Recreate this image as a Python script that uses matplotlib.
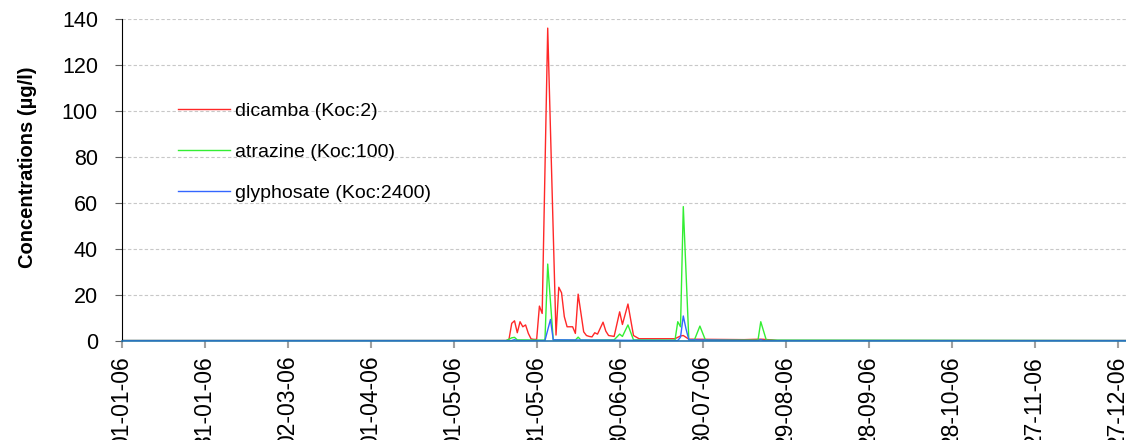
import matplotlib
matplotlib.use("Agg")
import matplotlib.pyplot as plt
import matplotlib.dates as mdates
import pandas as pd

plt.rcParams['font.family'] = ['Liberation Sans', 'DejaVu Sans']

# --- series: day offsets from 01-01-2006 and concentrations (µg/l) ---
START = pd.Timestamp('2006-01-01')

dicamba_days = [0, 139, 140, 141, 142, 143, 144, 145, 146, 147, 148, 149, 150,
                151, 152, 154, 157, 158, 159, 160, 161, 163, 164, 165, 167,
                168, 169, 170, 171, 172, 174, 175, 176, 178, 180, 181, 183,
                185, 187, 200, 202, 203, 205, 215, 225, 231, 235, 237, 364]
dicamba_vals = [0, 0, 0.5, 7.5, 8.6, 3.4, 8.2, 6.0, 6.8, 3.1, 0.7, 0.5, 0.5,
                15.0, 11.8, 136.0, 2.4, 23.2, 20.8, 10.4, 6.0, 6.0, 3.1, 20.2,
                3.8, 2.2, 1.8, 1.6, 3.4, 2.8, 8.0, 4.1, 2.2, 1.8, 12.5, 7.0,
                15.9, 2.2, 0.8, 0.8, 2.0, 2.2, 0.6, 0.5, 0.4, 0.6, 0.3, 0, 0]

atrazine_days = [0, 139, 141, 142, 143, 153, 154, 156, 164, 165, 166, 178,
                 180, 181, 183, 185, 200, 201, 202, 203, 205, 207, 209, 211,
                 230, 231, 233, 364]
atrazine_vals = [0, 0, 1.2, 1.4, 0.3, 0.2, 33.3, 0.3, 0.2, 1.5, 0.2, 0.3,
                 2.8, 1.8, 6.8, 0.3, 0.2, 8.2, 6.0, 58.3, 0.3, 0.2, 6.3, 0.2,
                 0.2, 8.2, 0.2, 0]

glyphosate_days = [0, 141, 142, 143, 153, 155, 156, 201, 202, 203, 204, 205,
                   230, 231, 232, 364]
glyphosate_vals = [0, 0, 0.4, 0, 0, 9.2, 0.3, 0, 1.5, 10.7, 5.0, 0.3,
                   0, 0.4, 0, 0]

tick_days = list(range(0, 361, 30))


def to_dates(days):
    return START + pd.to_timedelta(days, unit='D')


fig = plt.figure(figsize=(11.26, 4.40), dpi=100)
ax = fig.add_axes([0.108, 0.226, 0.892, 0.731])

ax.plot(to_dates(dicamba_days), dicamba_vals, color='#ff2828', lw=1.0,
        label='dicamba (Koc:2)')
ax.plot(to_dates(atrazine_days), atrazine_vals, color='#33ee33', lw=1.0,
        label='atrazine (Koc:100)')
ax.plot(to_dates(glyphosate_days), glyphosate_vals, color='#3366ff', lw=1.0,
        label='glyphosate (Koc:2400)')

ax.set_xlim(START, START + pd.Timedelta(days=363))
ax.set_ylim(0, 140)
ax.set_yticks(range(0, 141, 20))
ax.set_xticks(to_dates(tick_days))
ax.xaxis.set_major_formatter(mdates.DateFormatter('%d-%m-%y'))

ax.grid(axis='y', color='#c8c8c8', linestyle=(0, (3, 2)), linewidth=0.8)
ax.set_axisbelow(True)

for s in ('top', 'right'):
    ax.spines[s].set_visible(False)
ax.spines['left'].set_color('black')
ax.spines['left'].set_linewidth(0.8)
ax.spines['bottom'].set_color('#2878b0')
ax.spines['bottom'].set_linewidth(1.2)
ax.spines['bottom'].set_zorder(3)

ax.tick_params(axis='x', direction='out', length=5, width=1.5, color='#a0a0a0',
               labelsize=16.5, pad=6, labelrotation=90)
ax.tick_params(axis='y', direction='out', length=5, width=0.8, color='#606060',
               labelsize=15.5, pad=12)

ax.set_ylabel('Concentrations (µg/l)', fontsize=14.5, fontweight='bold')
ax.yaxis.set_label_coords(-0.084, 0.54)

ax.legend(loc='upper left', bbox_to_anchor=(0.039, 0.795), frameon=False,
          fontsize=14, handlelength=2.65, handletextpad=0.25, labelspacing=1.2)

fig.savefig('out.png', dpi=100)
